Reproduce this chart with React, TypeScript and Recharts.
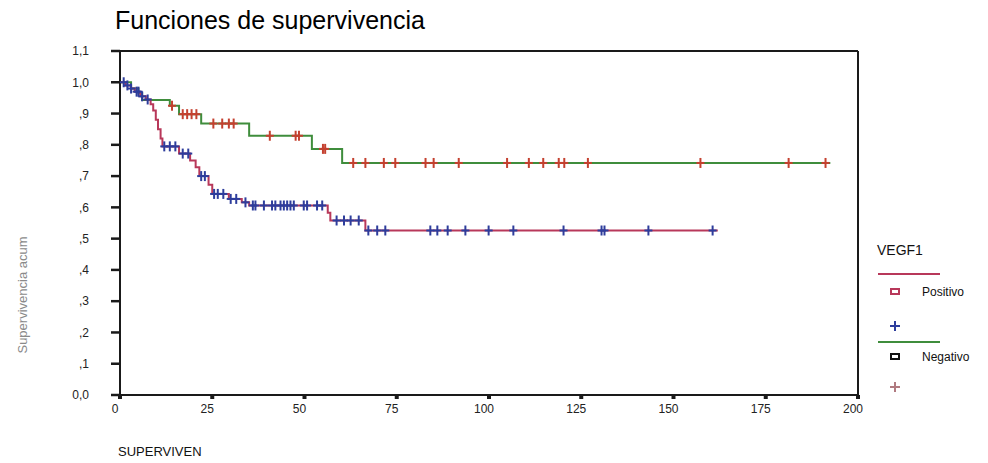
import React from 'react';
import { ComposedChart, Line, Scatter, XAxis, YAxis, ReferenceLine } from 'recharts';

// Kaplan-Meier steps, VEGF1 = Positivo
const posTime = [0, 1.5, 3, 4, 5.5, 7, 8.3, 9, 9.7, 10.3, 11, 11.5, 16, 19, 20.5, 21.5, 24, 25, 29.5, 33, 35, 56.3, 57, 66.5, 162];
const posSurv = [1.0, 0.99, 0.98, 0.97, 0.955, 0.945, 0.93, 0.91, 0.88, 0.85, 0.82, 0.795, 0.772, 0.75, 0.728, 0.7, 0.672, 0.643, 0.627, 0.616, 0.606, 0.583, 0.558, 0.526, 0.526];
const posCensored = [1, 2, 3, 4.5, 5, 6, 7.5, 12, 13.5, 15, 17, 18.5, 22, 23, 25.5, 26.5, 28, 30, 31.5, 34, 36, 36.7, 39, 41.2, 42.1, 43.5, 44.4, 45.3, 46.2, 47.1, 49.8, 50.7, 53.4, 54.8, 58.7, 60.7, 62.5, 64.7, 67.3, 69.7, 71.9, 84.1, 86, 88.8, 93.6, 99.9, 106.6, 120.2, 130.5, 131.3, 143.2, 160.6];

// VEGF1 = Negativo
const negTime = [0, 3, 5, 6, 13.5, 16, 22, 35, 52, 60.2, 192.5];
const negSurv = [1.0, 0.98, 0.965, 0.943, 0.925, 0.898, 0.868, 0.829, 0.787, 0.742, 0.742];
const negCensored = [14.1, 17, 18.2, 19.4, 20.7, 25.3, 27.7, 29.5, 30.8, 40.6, 47.6, 48.5, 55, 55.6, 63.2, 66.5, 71.5, 74.6, 82.8, 85, 91.8, 104.9, 110.8, 114.7, 118.9, 120.4, 126.8, 157.3, 181.2, 191.2];

const xTicks = [0, 25, 50, 75, 100, 125, 150, 175, 200];
const yTicks = [0, 0.1, 0.2, 0.3, 0.4, 0.5, 0.6, 0.7, 0.8, 0.9, 1.0, 1.1];
const yTickLabels = ['0,0', ',1', ',2', ',3', ',4', ',5', ',6', ',7', ',8', ',9', '1,0', '1,1'];

const FONT = 'Arial, "Liberation Sans", Helvetica, sans-serif';
const POS_LINE = '#b8385a';
const POS_MARK = '#2d3d9c';
const NEG_LINE = '#3f8d3c';
const NEG_MARK = '#c4402f';

const toSteps = (times: number[], surv: number[]) => times.map((t, i) => ({ t, s: surv[i] }));

const survAt = (times: number[], surv: number[], t: number) => {
  let s = surv[0];
  times.forEach((tt, i) => {
    if (tt <= t) s = surv[i];
  });
  return s;
};

const posCurve = toSteps(posTime, posSurv);
const negCurve = toSteps(negTime, negSurv);
const posMarks = posCensored.map((t) => ({ t, s: survAt(posTime, posSurv, t) }));
const negMarks = negCensored.map((t) => ({ t, s: survAt(negTime, negSurv, t) }));

const cross = (color: string) => (props: any) => {
  const { cx, cy } = props;
  if (cx == null || cy == null) return <g />;
  return (
    <g stroke={color} strokeWidth={2}>
      <line x1={cx - 4} y1={cy} x2={cx + 4} y2={cy} />
      <line x1={cx} y1={cy - 5} x2={cx} y2={cy + 5} />
    </g>
  );
};

const XTick = ({ x, y, payload }: any) => (
  <text x={x - 5} y={y + 12} textAnchor="middle" fontSize={12} fontFamily={FONT} fill="#222">
    {payload.value}
  </text>
);

const txt = (extra: React.CSSProperties): React.CSSProperties => ({
  position: 'absolute',
  fontFamily: FONT,
  color: '#111',
  whiteSpace: 'nowrap',
  lineHeight: 1,
  ...extra,
});

export default function App() {
  return (
    <div style={{ position: 'absolute', left: 0, top: 0, width: 988, height: 463, background: '#fff' }}>
      <ComposedChart
        width={988}
        height={463}
        margin={{ top: 51, right: 130, bottom: 38, left: 60 }}
      >
        <XAxis
          type="number"
          dataKey="t"
          domain={[0, 200]}
          ticks={xTicks}
          interval={0}
          height={30}
          allowDataOverflow
          axisLine={{ stroke: '#1a1a1a', strokeWidth: 2 }}
          tickLine={{ stroke: '#1a1a1a', strokeWidth: 4 }}
          tickSize={4}
          tick={<XTick />}
        />
        <YAxis
          type="number"
          dataKey="s"
          domain={[0, 1.1]}
          ticks={yTicks}
          interval={0}
          width={60}
          allowDataOverflow
          axisLine={{ stroke: '#1a1a1a', strokeWidth: 2 }}
          tickLine={{ stroke: '#1a1a1a', strokeWidth: 2.5 }}
          tickSize={9}
          tickMargin={22}
          tick={{ fontSize: 12, fontFamily: FONT, fill: '#222' }}
          tickFormatter={(v: number, i: number) => yTickLabels[i]}
        />
        <ReferenceLine y={1.1} stroke="#1a1a1a" strokeWidth={2} />
        <ReferenceLine x={200} stroke="#1a1a1a" strokeWidth={2} />
        <Line
          data={negCurve}
          dataKey="s"
          type="stepAfter"
          stroke={NEG_LINE}
          strokeWidth={2}
          dot={false}
          isAnimationActive={false}
        />
        <Line
          data={posCurve}
          dataKey="s"
          type="stepAfter"
          stroke={POS_LINE}
          strokeWidth={2}
          dot={false}
          isAnimationActive={false}
        />
        <Scatter data={negMarks} dataKey="s" shape={cross(NEG_MARK)} isAnimationActive={false} />
        <Scatter data={posMarks} dataKey="s" shape={cross(POS_MARK)} isAnimationActive={false} />
      </ComposedChart>

      <div style={txt({ left: 115, top: 8, fontSize: 25, color: '#000' })}>Funciones de supervivencia</div>
      <div
        style={txt({
          left: 22,
          top: 295,
          fontSize: 13,
          color: '#8a8a8a',
          transform: 'translate(-50%, -50%) rotate(-90deg)',
        })}
      >
        Supervivencia acum
      </div>
      <div style={txt({ left: 118, top: 445, fontSize: 13 })}>SUPERVIVEN</div>

      {/* legend */}
      <div style={txt({ left: 877, top: 243, fontSize: 14 })}>VEGF1</div>
      <svg style={{ position: 'absolute', left: 870, top: 260 }} width={90} height={140}>
        <line x1={8} y1={14} x2={70} y2={14} stroke={POS_LINE} strokeWidth={2} />
        <rect x={21} y={29} width={8} height={5} fill="none" stroke={POS_LINE} strokeWidth={2} />
        <g stroke={POS_MARK} strokeWidth={2}>
          <line x1={20} y1={66} x2={30} y2={66} />
          <line x1={25} y1={61} x2={25} y2={71} />
        </g>
        <line x1={8} y1={82} x2={70} y2={82} stroke={NEG_LINE} strokeWidth={2} />
        <rect x={21} y={94} width={8} height={5} fill="none" stroke="#111" strokeWidth={2} />
        <g stroke="#b07a80" strokeWidth={2}>
          <line x1={20} y1={127} x2={30} y2={127} />
          <line x1={25} y1={122} x2={25} y2={132} />
        </g>
      </svg>
      <div style={txt({ left: 922, top: 286, fontSize: 12 })}>Positivo</div>
      <div style={txt({ left: 922, top: 351, fontSize: 12 })}>Negativo</div>
    </div>
  );
}
